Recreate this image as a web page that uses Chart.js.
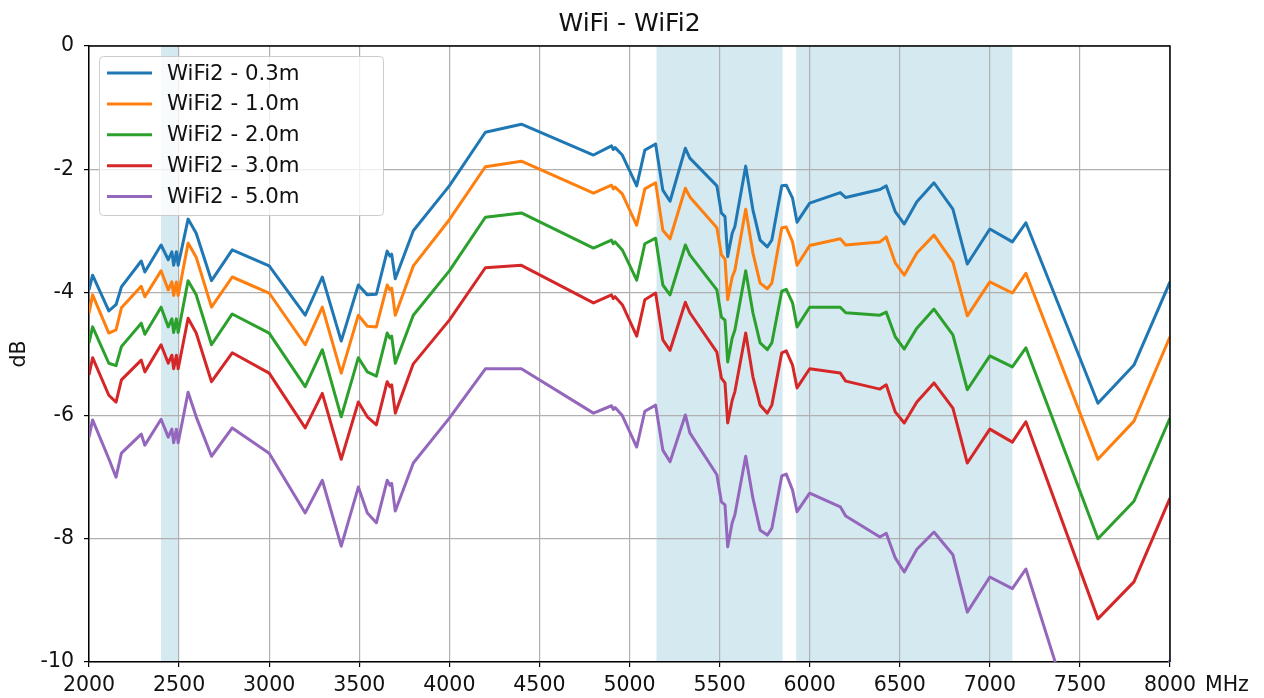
<!DOCTYPE html>
<html>
<head>
<meta charset="utf-8">
<script src="https://cdn.jsdelivr.net/npm/chart.js@4.4.1/dist/chart.umd.min.js"></script>
<style>
  html, body { margin: 0; padding: 0; background: #fff; }
  #wrap { width: 1264px; height: 698px; position: relative; }
</style>
</head>
<body>
<div id="wrap"><canvas id="chart"></canvas></div>
<script>
const freqs = [2000, 2020, 2110, 2150, 2180, 2290, 2310, 2400, 2440, 2460, 2470, 2485, 2495,
  2550, 2595, 2680, 2795, 3000, 3200, 3295, 3400, 3495, 3545, 3595, 3655, 3670, 3680, 3700,
  3800, 4000, 4200, 4400, 4800, 4900, 4910, 4920, 4960, 5040, 5085, 5145, 5185, 5225, 5310,
  5335, 5485, 5510, 5530, 5545, 5570, 5585, 5645, 5685, 5725, 5765, 5790, 5845, 5870, 5905,
  5930, 6000, 6170, 6200, 6390, 6425, 6475, 6525, 6595, 6690, 6795, 6875, 7000, 7125, 7200,
  7600, 7800, 8000];

const wifi03 = [-3.96, -3.72, -4.30, -4.20, -3.91, -3.49, -3.67, -3.23, -3.47, -3.34, -3.56, -3.34, -3.56,
  -2.81, -3.04, -3.81, -3.31, -3.57, -4.37, -3.75, -4.79, -3.88, -4.04, -4.03, -3.33, -3.41, -3.38, -3.78,
  -3.00, -2.27, -1.40, -1.27, -1.77, -1.62, -1.68, -1.65, -1.77, -2.27, -1.69, -1.59, -2.34, -2.52, -1.66,
  -1.82, -2.27, -2.71, -2.77, -3.42, -3.04, -2.93, -1.95, -2.66, -3.15, -3.26, -3.15, -2.27, -2.26, -2.47,
  -2.86, -2.55, -2.38, -2.46, -2.33, -2.27, -2.69, -2.89, -2.53, -2.22, -2.65, -3.54, -2.97, -3.18, -2.87,
  -5.80, -5.18, -3.83];

const wifi10 = [-4.34, -4.04, -4.66, -4.61, -4.25, -3.90, -4.07, -3.65, -3.96, -3.83, -4.05, -3.83, -4.05,
  -3.20, -3.43, -4.24, -3.75, -4.01, -4.85, -4.24, -5.31, -4.37, -4.55, -4.56, -3.88, -3.96, -3.93, -4.37,
  -3.57, -2.82, -1.96, -1.87, -2.39, -2.26, -2.32, -2.29, -2.40, -2.91, -2.32, -2.22, -2.99, -3.13, -2.31,
  -2.45, -2.95, -3.39, -3.46, -4.12, -3.75, -3.64, -2.65, -3.36, -3.85, -3.94, -3.85, -2.95, -2.94, -3.18,
  -3.56, -3.24, -3.13, -3.23, -3.18, -3.10, -3.52, -3.72, -3.36, -3.07, -3.51, -4.38, -3.83, -4.01, -3.69,
  -6.71, -6.09, -4.72];

const wifi20 = [-4.82, -4.56, -5.15, -5.19, -4.88, -4.50, -4.68, -4.24, -4.56, -4.43, -4.65, -4.43, -4.65,
  -3.81, -4.04, -4.85, -4.35, -4.66, -5.53, -4.93, -6.02, -5.06, -5.29, -5.36, -4.66, -4.74, -4.71, -5.15,
  -4.37, -3.65, -2.78, -2.71, -3.28, -3.15, -3.21, -3.18, -3.31, -3.80, -3.21, -3.12, -3.88, -4.04, -3.23,
  -3.39, -3.96, -4.40, -4.45, -5.13, -4.74, -4.61, -3.65, -4.33, -4.82, -4.93, -4.82, -3.98, -3.95, -4.17,
  -4.56, -4.24, -4.24, -4.33, -4.37, -4.32, -4.72, -4.92, -4.58, -4.27, -4.69, -5.58, -5.03, -5.21, -4.90,
  -8.00, -7.39, -6.04];

const wifi30 = [-5.34, -5.06, -5.67, -5.78, -5.42, -5.10, -5.29, -4.85, -5.15, -5.02, -5.24, -5.02, -5.24,
  -4.42, -4.66, -5.45, -4.98, -5.31, -6.20, -5.64, -6.71, -5.78, -6.02, -6.15, -5.45, -5.53, -5.50, -5.96,
  -5.16, -4.45, -3.60, -3.56, -4.17, -4.04, -4.10, -4.07, -4.20, -4.71, -4.12, -4.01, -4.77, -4.94, -4.16,
  -4.33, -4.97, -5.39, -5.47, -6.12, -5.75, -5.61, -4.66, -5.37, -5.83, -5.96, -5.83, -4.98, -4.95, -5.18,
  -5.55, -5.24, -5.31, -5.44, -5.57, -5.50, -5.94, -6.12, -5.78, -5.47, -5.88, -6.77, -6.22, -6.43, -6.10,
  -9.30, -8.70, -7.34];

const wifi50 = [-6.35, -6.07, -6.70, -7.00, -6.61, -6.30, -6.48, -6.06, -6.35, -6.22, -6.44, -6.22, -6.44,
  -5.62, -6.02, -6.66, -6.20, -6.61, -7.58, -7.05, -8.12, -7.16, -7.58, -7.74, -7.05, -7.13, -7.10, -7.55,
  -6.77, -6.04, -5.24, -5.24, -5.96, -5.84, -5.90, -5.87, -6.00, -6.51, -5.93, -5.83, -6.56, -6.75, -5.99,
  -6.28, -6.96, -7.40, -7.45, -8.13, -7.74, -7.61, -6.66, -7.34, -7.86, -7.94, -7.83, -6.98, -6.95, -7.21,
  -7.56, -7.26, -7.48, -7.63, -7.97, -7.91, -8.31, -8.54, -8.17, -7.89, -8.26, -9.19, -8.62, -8.81, -8.49,
  -12.20, -11.60, -9.97];

const seriesNames = ['WiFi2 - 0.3m', 'WiFi2 - 1.0m', 'WiFi2 - 2.0m', 'WiFi2 - 3.0m', 'WiFi2 - 5.0m'];
const seriesValues = [wifi03, wifi10, wifi20, wifi30, wifi50];
const colors = ['#1f77b4', '#ff7f0e', '#2ca02c', '#d62728', '#9467bd'];
const bands = [[2400, 2500], [5150, 5850], [5925, 7125]];

const FONT = 'DejaVu Sans';

const datasets = seriesNames.map((name, i) => ({
  label: name,
  data: freqs.map((f, j) => ({ x: f, y: seriesValues[i][j] })),
  borderColor: colors[i],
  backgroundColor: colors[i],
  borderWidth: 3,
  borderJoinStyle: 'round',
  pointRadius: 0,
  tension: 0,
  fill: false
}));

const extras = {
  id: 'extras',
  beforeDraw(chart) {
    const { ctx, chartArea: a, scales: { x } } = chart;
    ctx.save();
    ctx.fillStyle = '#d5e9f0';
    bands.forEach(([lo, hi]) => {
      const x0 = x.getPixelForValue(lo), x1 = x.getPixelForValue(hi);
      ctx.fillRect(x0, a.top, x1 - x0, a.bottom - a.top);
    });
    ctx.restore();
  },
  afterDraw(chart) {
    const { ctx, chartArea: a } = chart;
    ctx.save();
    // top and right spines
    ctx.strokeStyle = '#000';
    ctx.lineWidth = 1.5;
    ctx.beginPath();
    ctx.moveTo(a.left, a.top);
    ctx.lineTo(a.right, a.top);
    ctx.lineTo(a.right, a.bottom);
    ctx.stroke();

    ctx.fillStyle = '#111';
    ctx.textBaseline = 'middle';
    ctx.textAlign = 'center';
    ctx.font = '25px "' + FONT + '"';
    ctx.fillText('WiFi - WiFi2', (a.left + a.right) / 2, 24);

    ctx.font = '20.5px "' + FONT + '"';
    ctx.textAlign = 'left';
    ctx.fillText('MHz', a.right + 35, 686);

    ctx.save();
    ctx.translate(20, (a.top + a.bottom) / 2);
    ctx.rotate(-Math.PI / 2);
    ctx.textAlign = 'center';
    ctx.fillText('dB', 0, 0);
    ctx.restore();

    // legend
    const lx = 99, ly = 56, lw = 284, lh = 159;
    ctx.fillStyle = 'rgba(255,255,255,0.8)';
    ctx.strokeStyle = '#cccccc';
    ctx.lineWidth = 1;
    ctx.beginPath();
    ctx.roundRect(lx + 0.5, ly + 0.5, lw, lh, 4);
    ctx.fill();
    ctx.stroke();
    ctx.font = '21.3px "' + FONT + '"';
    ctx.textAlign = 'left';
    chart.data.datasets.forEach((ds, i) => {
      const yy = 73 + i * 30.9;
      ctx.strokeStyle = ds.borderColor;
      ctx.lineWidth = 3;
      ctx.beginPath();
      ctx.moveTo(107, yy);
      ctx.lineTo(152, yy);
      ctx.stroke();
      ctx.fillStyle = '#111';
      ctx.fillText(ds.label, 167, yy + 1);
    });
    ctx.restore();
  }
};

new Chart(document.getElementById('chart'), {
  type: 'line',
  data: { datasets },
  options: {
    responsive: true,
    maintainAspectRatio: false,
    animation: false,
    devicePixelRatio: 1,
    layout: { padding: { left: 0, top: 46, right: 94, bottom: 0 } },
    plugins: {
      legend: { display: false },
      title: { display: false },
      tooltip: { enabled: false }
    },
    scales: {
      x: {
        type: 'linear',
        min: 2000,
        max: 8000,
        afterFit(s) { s.height = 36; },
        ticks: { stepSize: 500, color: '#111', padding: 6, maxRotation: 0,
          font: { family: FONT, size: 20.5 }, callback: v => String(v) },
        grid: { color: '#b0b0b0', lineWidth: 1.2, tickColor: '#000', tickLength: 5 },
        border: { color: '#000', width: 1.5 }
      },
      y: {
        min: -10,
        max: 0,
        afterFit(s) { s.width = 89; },
        ticks: { stepSize: 2, color: '#111', padding: 10,
          font: { family: FONT, size: 20.5 }, callback: v => String(v) },
        grid: { color: '#b0b0b0', lineWidth: 1.2, tickColor: '#000', tickLength: 5 },
        border: { color: '#000', width: 1.5 }
      }
    }
  },
  plugins: [extras]
});
</script>
</body>
</html>
